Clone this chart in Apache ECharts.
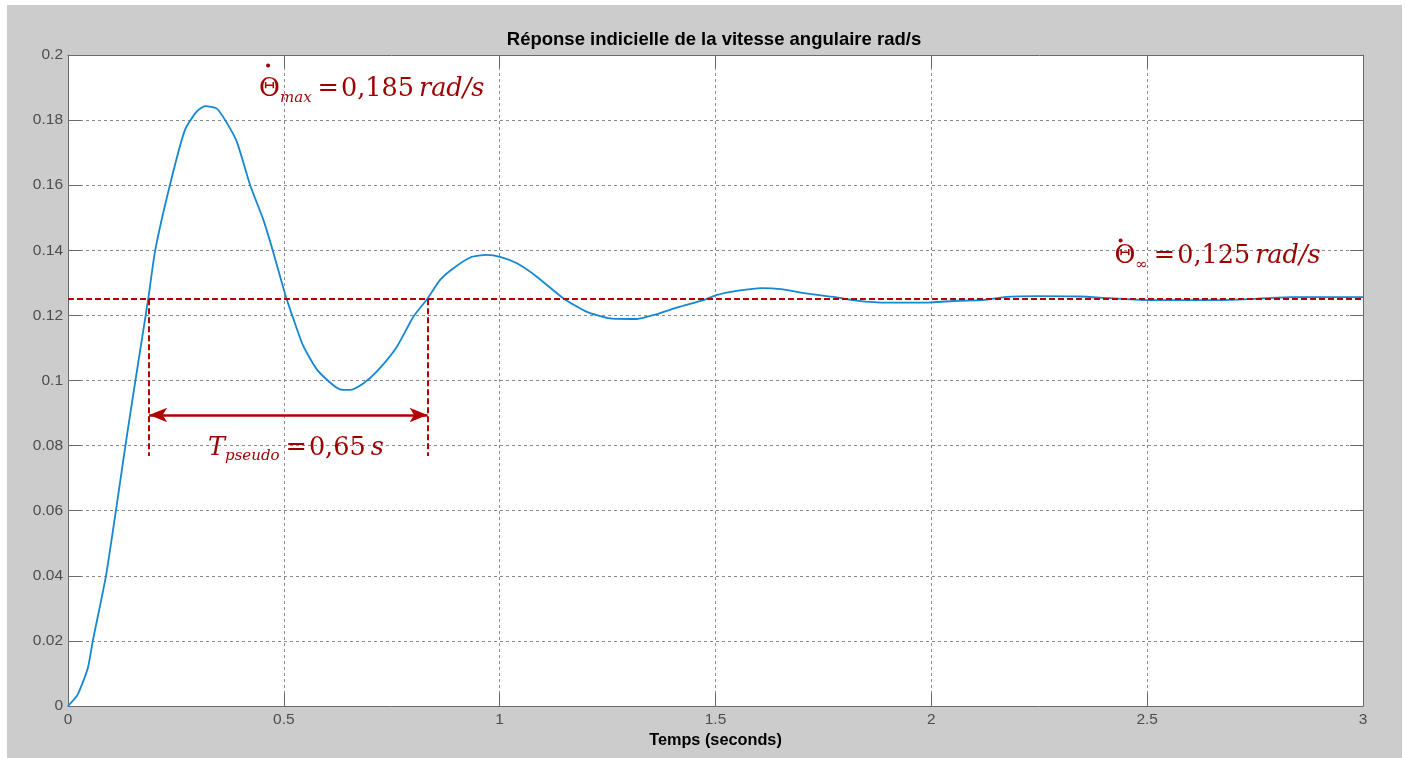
<!DOCTYPE html>
<html><head><meta charset="utf-8">
<script src="https://cdn.jsdelivr.net/npm/echarts@6/dist/echarts.min.js"></script>
<style>
html,body{margin:0;padding:0;background:#fff;width:1405px;height:758px;overflow:hidden;}
#chart{position:absolute;left:7px;top:5px;width:1395px;height:753px;background:#cccccc;}
</style></head><body><div id="chart"></div>
<script>
// ---- data ----
const timeS = [0, 0.022, 0.046, 0.057, 0.088, 0.111, 0.133, 0.155, 0.186, 0.202, 0.236, 0.271, 0.298, 0.318, 0.344, 0.364, 0.391, 0.422, 0.453, 0.476, 0.503, 0.522, 0.545, 0.576, 0.607, 0.630, 0.653, 0.684, 0.715, 0.762, 0.800, 0.833, 0.862, 0.893, 0.932, 0.970, 1.001, 1.040, 1.086, 1.148, 1.202, 1.256, 1.318, 1.356, 1.418, 1.472, 1.504, 1.553, 1.606, 1.651, 1.709, 1.778, 1.817, 1.875, 1.934, 2.002, 2.061, 2.120, 2.169, 2.247, 2.345, 2.413, 2.511, 2.667, 2.736, 2.834, 3.0];
const omegaRad = [0, 0.0034, 0.0117, 0.0197, 0.040, 0.060, 0.080, 0.099, 0.1252, 0.140, 0.160, 0.177, 0.1826, 0.1843, 0.1836, 0.180, 0.1734, 0.160, 0.1492, 0.1392, 0.1265, 0.1190, 0.1106, 0.1035, 0.0994, 0.0973, 0.0971, 0.0991, 0.1027, 0.1104, 0.1196, 0.1252, 0.1309, 0.1345, 0.1378, 0.1386, 0.1380, 0.136, 0.1319, 0.1252, 0.1211, 0.1191, 0.1189, 0.1201, 0.1227, 0.1247, 0.1263, 0.1276, 0.1284, 0.1281, 0.1268, 0.1256, 0.1247, 0.1240, 0.1239, 0.1240, 0.1245, 0.1247, 0.1256, 0.1259, 0.1258, 0.1253, 0.1247, 0.1247, 0.1250, 0.1256, 0.1256];
const xTickLabels = ['0', '0.5', '1', '1.5', '2', '2.5', '3'];
const yTickLabels = ['0', '0.02', '0.04', '0.06', '0.08', '0.1', '0.12', '0.14', '0.16', '0.18', '0.2'];

// annotation values
const steadyValue = 0.125;
const peakValue = 0.1845;
const peakLineX = [-0.007, 0.404];
const crossTimes = [0.188, 0.833];
const arrowLevel = 0.0894;
const dropLevel = 0.0768;
const peakLabelAt = [0.4403, 0.1894];
const steadyLabelAt = [2.4218, 0.1380];
const periodLabelAt = [0.3221, 0.0793];
const dotAt = [[0.4635, 0.1968], [2.4385, 0.1430]];
const peakText = '0,185';
const steadyText = '0,125';
const periodText = '0,65';

const chart = echarts.init(document.getElementById('chart'), null, {renderer: 'canvas'});
const RED_LINE = '#b50000';
const RED_TEXT = '#9c0000';
const SERIF = 'DejaVu Serif';
const richStyles = {
  th: {fontSize: 25.5, fontFamily: SERIF, color: RED_TEXT, lineHeight: 32},
  it0: {fontSize: 25.5, fontFamily: SERIF, fontStyle: 'italic', color: RED_TEXT, lineHeight: 32},
  sub: {fontSize: 15, fontFamily: SERIF, fontStyle: 'italic', color: RED_TEXT, verticalAlign: 'bottom'},
  subu: {fontSize: 15, fontFamily: SERIF, color: RED_TEXT, verticalAlign: 'bottom'},
  eq: {fontSize: 25.5, fontFamily: SERIF, color: RED_TEXT, lineHeight: 32, padding: [0, 2, 0, 6]},
  num: {fontSize: 25.5, fontFamily: SERIF, color: RED_TEXT, lineHeight: 32},
  it: {fontSize: 25.5, fontFamily: SERIF, fontStyle: 'italic', color: RED_TEXT, lineHeight: 32, padding: [0, 0, 0, 5]}
};
function textPoint(coord, fmt) {
  return {
    coord: coord, symbol: 'circle', symbolSize: 2, itemStyle: {color: 'rgba(0,0,0,0)'},
    label: {show: true, position: 'right', distance: 0, align: 'left', verticalAlign: 'middle', formatter: fmt, rich: richStyles}
  };
}
function dotPoint(coord) {
  return {coord: coord, symbol: 'circle', symbolSize: 4, itemStyle: {color: RED_TEXT}, label: {show: false}};
}
const gridLine = {show: true, lineStyle: {color: '#8a8a8a', type: [3, 3], width: 1}};
const tickFont = {color: '#4d4d4d', fontSize: 15.5, fontFamily: 'Liberation Sans'};

const option = {
  animation: false,
  title: {
    text: 'Réponse indicielle de la vitesse angulaire rad/s',
    left: 702, top: 20, textAlign: 'center',
    textStyle: {fontSize: 18.5, fontWeight: 'bold', color: '#000', fontFamily: 'Liberation Sans'}
  },
  grid: {left: 61, top: 50, right: 39, bottom: 52, show: true, backgroundColor: '#fff', borderWidth: 0},
  xAxis: [{
    type: 'value', min: 0, max: 3, interval: 0.5, position: 'bottom',
    name: 'Temps (seconds)', nameLocation: 'middle', nameGap: 27,
    nameTextStyle: {fontSize: 16.3, fontWeight: 'bold', color: '#000', fontFamily: 'Liberation Sans'},
    axisLine: {show: true, onZero: false, lineStyle: {color: '#6a6a6a', width: 1}},
    axisTick: {show: true, inside: true, length: 13, lineStyle: {color: '#6a6a6a'}},
    axisLabel: Object.assign({margin: 6, formatter: v => xTickLabels[Math.round(v / 0.5)]}, tickFont),
    splitLine: gridLine
  }, {
    type: 'value', min: 0, max: 3, interval: 0.5, position: 'top',
    axisLine: {show: true, onZero: false, lineStyle: {color: '#6a6a6a', width: 1}},
    axisTick: {show: true, inside: true, length: 13, lineStyle: {color: '#6a6a6a'}},
    axisLabel: {show: false}, splitLine: {show: false}
  }],
  yAxis: [{
    type: 'value', min: 0, max: 0.2, interval: 0.02, position: 'left',
    axisLine: {show: true, onZero: false, lineStyle: {color: '#6a6a6a', width: 1}},
    axisTick: {show: true, inside: true, length: 13, lineStyle: {color: '#6a6a6a'}},
    axisLabel: Object.assign({margin: 5, formatter: v => yTickLabels[Math.round(v / 0.02)]}, tickFont),
    splitLine: gridLine
  }, {
    type: 'value', min: 0, max: 0.2, interval: 0.02, position: 'right',
    axisLine: {show: true, onZero: false, lineStyle: {color: '#6a6a6a', width: 1}},
    axisTick: {show: true, inside: true, length: 13, lineStyle: {color: '#6a6a6a'}},
    axisLabel: {show: false}, splitLine: {show: false}
  }],
  series: [{
    type: 'line', xAxisIndex: 0, yAxisIndex: 0,
    data: timeS.map((t, i) => [t, omegaRad[i]]),
    showSymbol: false, smooth: 0.2,
    lineStyle: {color: '#1587d0', width: 1.8},
    z: 3,
    markPoint: {
      silent: true, animation: false,
      data: [
        textPoint(peakLabelAt, '{th|\u0398}{sub|max}{eq|=}{num|' + peakText + '}{it|rad/s}'),
        textPoint(steadyLabelAt, '{th|\u0398}{subu|\u221e}{eq|=}{num|' + steadyText + '}{it|rad/s}'),
        textPoint(periodLabelAt, '{it0|T}{sub|pseudo}{eq|=}{num|' + periodText + '}{it|s}'),
        dotPoint(dotAt[0]),
        dotPoint(dotAt[1])
      ]
    }
  }, {
    type: 'line', xAxisIndex: 0, yAxisIndex: 0, data: [], z: 4, clip: false,
    markLine: {
      silent: true, symbol: ['none', 'none'], label: {show: false},
      lineStyle: {color: RED_LINE, type: [6, 3], width: 2},
      data: [
        [{coord: [peakLineX[0], peakValue]}, {coord: [peakLineX[1], peakValue]}],
        [{coord: [0, steadyValue]}, {coord: [3, steadyValue]}],
        [{coord: [crossTimes[0], steadyValue]}, {coord: [crossTimes[0], dropLevel]}],
        [{coord: [crossTimes[1], steadyValue]}, {coord: [crossTimes[1], dropLevel]}]
      ]
    }
  }, {
    type: 'line', xAxisIndex: 0, yAxisIndex: 0, data: [], z: 4,
    markLine: {
      silent: true, symbol: ['arrow', 'arrow'], symbolSize: [11, 18], label: {show: false},
      lineStyle: {color: RED_LINE, type: 'solid', width: 2.5},
      itemStyle: {color: RED_LINE},
      data: [[{coord: [crossTimes[0], arrowLevel]}, {coord: [crossTimes[1], arrowLevel]}]]
    }
  }]
};
chart.setOption(option);
</script></body></html>
